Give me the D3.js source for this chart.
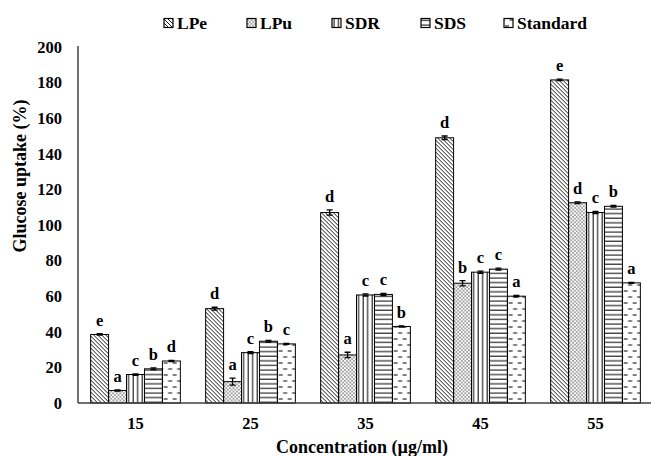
<!DOCTYPE html>
<html>
<head>
<meta charset="utf-8">
<title>Glucose uptake</title>
<script src="https://d3js.org/d3.v7.min.js"></script>
<style>
  body { margin: 0; background: #fff; }
  text { font-family: "Liberation Serif", "Times New Roman", serif; font-weight: bold; fill: #000; }
</style>
</head>
<body>
<div id="chart"></div>
<script>
// data
const concentrations = ["15", "25", "35", "45", "55"];
const series = ["LPe", "LPu", "SDR", "SDS", "Standard"];

const LPe      = [38.5, 53, 107, 149, 181.5];
const LPu      = [7, 12, 27, 67.3, 112.5];
const SDR      = [16, 28.3, 60.7, 73.5, 107];
const SDS      = [19.2, 34.7, 61, 75.2, 110.5];
const Standard = [23.6, 33.2, 43, 60, 67.5];

const LPeErr      = [0.4, 0.8, 1.5, 1.0, 0.4];
const LPuErr      = [0.3, 2.0, 1.5, 1.5, 0.5];
const SDRErr      = [0.4, 0.5, 0.6, 0.6, 0.6];
const SDSErr      = [0.5, 0.5, 0.6, 0.6, 0.5];
const StandardErr = [0.3, 0.3, 0.3, 0.4, 0.3];

const LPeSig      = ["e", "d", "d", "d", "e"];
const LPuSig      = ["a", "a", "a", "b", "d"];
const SDRSig      = ["c", "c", "c", "c", "c"];
const SDSSig      = ["b", "b", "c", "c", "b"];
const StandardSig = ["d", "c", "b", "a", "a"];

const yTicks = [0, 20, 40, 60, 80, 100, 120, 140, 160, 180, 200];

const values = [LPe, LPu, SDR, SDS, Standard];
const errors = [LPeErr, LPuErr, SDRErr, SDSErr, StandardErr];
const letters = [LPeSig, LPuSig, SDRSig, SDSSig, StandardSig];

const width = 651, height = 456;
const margin = { left: 78, bottom: 403, top: 47 };

const svg = d3.select("#chart").append("svg")
  .attr("width", width).attr("height", height);

// fill patterns, one per series
const defs = svg.append("defs");

const pDiag = defs.append("pattern").attr("id", "p0")
  .attr("patternUnits", "userSpaceOnUse").attr("width", 4).attr("height", 4);
pDiag.append("path").attr("d", "M-1,-1 L5,5 M-1,3 L1,5 M3,-1 L5,1")
  .attr("stroke", "#000").attr("stroke-width", 0.9);

const pDot = defs.append("pattern").attr("id", "p1")
  .attr("patternUnits", "userSpaceOnUse").attr("width", 3.6).attr("height", 3.6);
pDot.append("circle").attr("cx", 0.9).attr("cy", 0.9).attr("r", 0.65).attr("fill", "#111");
pDot.append("circle").attr("cx", 2.7).attr("cy", 2.7).attr("r", 0.65).attr("fill", "#111");

const pVert = defs.append("pattern").attr("id", "p2")
  .attr("patternUnits", "userSpaceOnUse").attr("width", 4.5).attr("height", 4);
pVert.append("line").attr("x1", 2).attr("x2", 2).attr("y1", 0).attr("y2", 4)
  .attr("stroke", "#000").attr("stroke-width", 1);

const pHor = defs.append("pattern").attr("id", "p3")
  .attr("patternUnits", "userSpaceOnUse").attr("width", 4).attr("height", 4.6);
pHor.append("line").attr("x1", 0).attr("x2", 4).attr("y1", 2).attr("y2", 2)
  .attr("stroke", "#000").attr("stroke-width", 1);

const pDash = defs.append("pattern").attr("id", "p4")
  .attr("patternUnits", "userSpaceOnUse").attr("width", 9).attr("height", 12);
pDash.append("line").attr("x1", 1).attr("x2", 5).attr("y1", 3).attr("y2", 3)
  .attr("stroke", "#000").attr("stroke-width", 1);
pDash.append("line").attr("x1", 5.5).attr("x2", 9.5).attr("y1", 9).attr("y2", 9)
  .attr("stroke", "#000").attr("stroke-width", 1);
pDash.append("line").attr("x1", -3.5).attr("x2", 0.5).attr("y1", 9).attr("y2", 9)
  .attr("stroke", "#000").attr("stroke-width", 1);

// scales
const x = d3.scaleBand().domain(concentrations)
  .range([margin.left, margin.left + 575]).paddingInner(0.22).paddingOuter(0.11);
const xs = d3.scaleBand().domain(series).range([0, x.bandwidth()]);
const y = d3.scaleLinear().domain([0, 200]).range([margin.bottom, margin.top]);

// y tick labels
svg.selectAll(".ytick").data(yTicks).enter().append("text")
  .attr("x", 62).attr("y", d => y(d)).attr("dy", "0.35em")
  .attr("text-anchor", "end").style("font-size", "16.5px")
  .text(d => d);

// bars
const groups = svg.selectAll(".grp").data(concentrations).enter().append("g")
  .attr("transform", d => "translate(" + x(d) + ",0)");

series.forEach(function(s, si) {
  groups.append("rect")
    .attr("x", xs(s))
    .attr("y", (d, i) => y(values[si][i]))
    .attr("width", xs.bandwidth())
    .attr("height", (d, i) => margin.bottom - y(values[si][i]))
    .attr("fill", "url(#p" + si + ")")
    .attr("stroke", "#000").attr("stroke-width", 1);

  // error bars
  const cx = xs(s) + xs.bandwidth() / 2;
  groups.append("path")
    .attr("d", function(d, i) {
      const v = values[si][i], e = errors[si][i];
      const y1 = y(v + e), y2 = y(v - e);
      return "M" + (cx - 3) + "," + y1 + "H" + (cx + 3) +
             "M" + cx + "," + y1 + "V" + y2 +
             "M" + (cx - 3) + "," + y2 + "H" + (cx + 3);
    })
    .attr("stroke", "#000").attr("stroke-width", 1.3).attr("fill", "none");

  // significance letters
  groups.append("text")
    .attr("x", cx)
    .attr("y", (d, i) => y(values[si][i] + errors[si][i]) - 8)
    .attr("text-anchor", "middle").style("font-size", "16.5px")
    .text((d, i) => letters[si][i]);
});

// axes lines
svg.append("line").attr("x1", margin.left).attr("x2", margin.left)
  .attr("y1", 46).attr("y2", margin.bottom)
  .attr("stroke", "#404040").attr("stroke-width", 1.5);
svg.append("line").attr("x1", margin.left).attr("x2", width)
  .attr("y1", margin.bottom).attr("y2", margin.bottom)
  .attr("stroke", "#404040").attr("stroke-width", 1.5);

// x tick labels
svg.selectAll(".xtick").data(concentrations).enter().append("text")
  .attr("x", d => x(d) + x.bandwidth() / 2).attr("y", 423).attr("dy", "0.35em")
  .attr("text-anchor", "middle").style("font-size", "16.5px")
  .text(d => d);

// axis titles
svg.append("text").attr("x", 362).attr("y", 447).attr("dy", "0.35em")
  .attr("text-anchor", "middle").style("font-size", "18px")
  .text("Concentration (\u00b5g/ml)");
svg.append("text")
  .attr("transform", "translate(20,176) rotate(-90)")
  .attr("dy", "0.35em")
  .attr("text-anchor", "middle").style("font-size", "18px")
  .text("Glucose uptake (%)");

// legend
const legendX = [164, 247, 332, 421, 504];
const lg = svg.selectAll(".lg").data(series).enter().append("g")
  .attr("transform", (d, i) => "translate(" + legendX[i] + ",23)");
lg.append("rect").attr("x", 0).attr("y", -4.5).attr("width", 9).attr("height", 9)
  .attr("fill", (d, i) => "url(#p" + i + ")")
  .attr("stroke", "#000").attr("stroke-width", 1.2);
lg.append("text").attr("x", 13).attr("dy", "0.35em")
  .style("font-size", "17.5px").text(d => d);
</script>
</body>
</html>
